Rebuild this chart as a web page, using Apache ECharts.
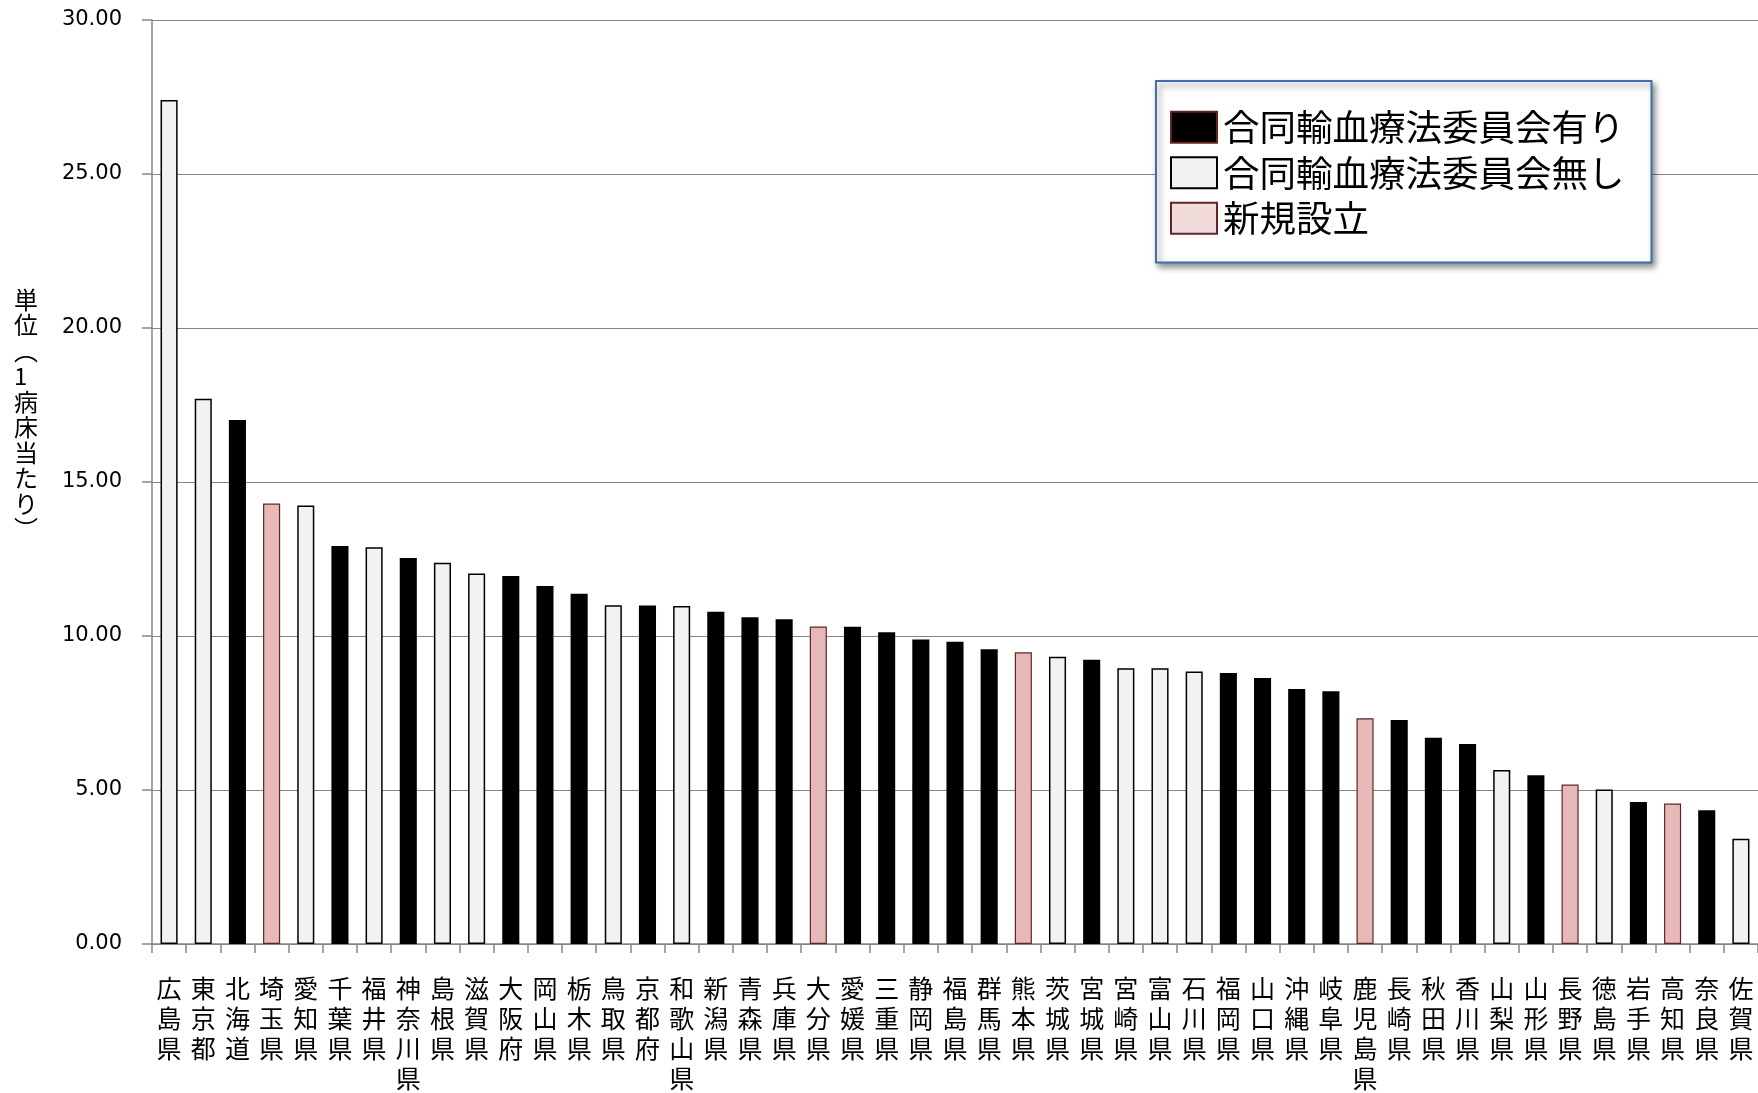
<!DOCTYPE html>
<html><head><meta charset="utf-8">
<script src="https://cdn.jsdelivr.net/npm/echarts@6/dist/echarts.min.js"></script>
<style>html,body{margin:0;padding:0;background:#fff}#c{width:1758px;height:1093px}</style>
</head><body><div id="c"></div>
<script>
const categories = ['広島県','東京都','北海道','埼玉県','愛知県','千葉県','福井県','神奈川県','島根県','滋賀県','大阪府','岡山県','栃木県','鳥取県','京都府','和歌山県','新潟県','青森県','兵庫県','大分県','愛媛県','三重県','静岡県','福島県','群馬県','熊本県','茨城県','宮城県','宮崎県','富山県','石川県','福岡県','山口県','沖縄県','岐阜県','鹿児島県','長崎県','秋田県','香川県','山梨県','山形県','長野県','徳島県','岩手県','高知県','奈良県','佐賀県'];
const values = [27.40,17.70,17.01,14.30,14.24,12.92,12.88,12.53,12.38,12.03,11.95,11.62,11.37,11.00,10.99,10.97,10.79,10.61,10.54,10.31,10.30,10.12,9.89,9.81,9.57,9.47,9.33,9.23,8.95,8.95,8.85,8.80,8.64,8.28,8.21,7.33,7.27,6.70,6.49,5.65,5.48,5.18,5.02,4.61,4.56,4.34,3.42];
// A = 合同輸血療法委員会有り, N = 合同輸血療法委員会無し, S = 新規設立
const types = ['N','N','A','S','N','A','N','A','N','N','A','A','A','N','A','N','A','A','A','S','A','A','A','A','A','S','N','A','N','N','N','A','A','A','A','S','A','A','A','N','A','S','N','A','S','A','N'];
const seriesNames = {A:'合同輸血療法委員会有り', N:'合同輸血療法委員会無し', S:'新規設立'};
const yTicks = [0,5,10,15,20,25,30];
const yAxisName = '単位（1病床当たり）';

const styles = {
  A:{color:'#000000', borderColor:'#000000', borderWidth:0},
  N:{color:'#f2f2f2', borderColor:'#000000', borderWidth:1.5},
  S:{color:'#e6b9b8', borderColor:'#632523', borderWidth:1.2}
};
const legendStyles = {
  A:{color:'#000000', borderColor:'#632523', borderWidth:2},
  N:{color:'#f2f2f2', borderColor:'#000000', borderWidth:2},
  S:{color:'#f2dcdb', borderColor:'#632523', borderWidth:2}
};
const keys = ['A','N','S'];
const series = keys.map(k => ({
  name: seriesNames[k], type:'bar', stack:'s', barWidth:'50%',
  data: values.map((v,i) => types[i]===k ? v : '-'),
  itemStyle: styles[k]
}));
const vertName = Array.from(yAxisName).map(c => c==='（'?'︵':(c==='）'?'︶':c)).join('\n');

const chart = echarts.init(document.getElementById('c'), null, {renderer:'canvas'});
chart.setOption({
  animation:false,
  backgroundColor:'#ffffff',
  grid:{left:152, right:0, top:20, bottom:147},
  legend:{
    orient:'vertical', left:1156, top:81,
    padding:[28,27,26,14], itemWidth:46, itemHeight:31, itemGap:9,
    backgroundColor:'#ffffff', borderColor:'#3f6fae', borderWidth:2,
    shadowColor:'rgba(0,0,0,0.45)', shadowBlur:6, shadowOffsetX:3, shadowOffsetY:4,
    textStyle:{fontFamily:'Noto Sans CJK JP', fontSize:36.5, color:'#000', padding:[0,0,0,1]},
    data: keys.map(k => ({name:seriesNames[k], icon:'rect', itemStyle:legendStyles[k]}))
  },
  graphic:[{
    type:'text', left:14, top:287,
    style:{text:vertName, font:'24px "Noto Sans CJK JP"', lineHeight:25.5, fill:'#000', align:'center'}
  }],
  xAxis:{
    type:'category', data:categories,
    axisLine:{lineStyle:{color:'#868686', width:1.5}},
    axisTick:{show:true, length:9, lineStyle:{color:'#868686', width:1.5}},
    axisLabel:{interval:0, margin:29, fontFamily:'Noto Sans CJK JP', fontSize:25, lineHeight:30, color:'#000',
      formatter: v => Array.from(v).join('\n')}
  },
  yAxis:{
    type:'value', min:0, max:30, interval:5,
    axisLine:{show:true, lineStyle:{color:'#868686', width:1.5}},
    axisTick:{show:true, inside:false, length:10, lineStyle:{color:'#868686', width:1.5}},
    splitLine:{show:true, lineStyle:{color:'#868686', width:1.2}},
    axisLabel:{margin:30, fontFamily:'DejaVu Sans', fontSize:21, color:'#000',
      formatter: v => yTicks.includes(v) ? v.toFixed(2) : ''}
  },
  series: series
});
</script></body></html>
